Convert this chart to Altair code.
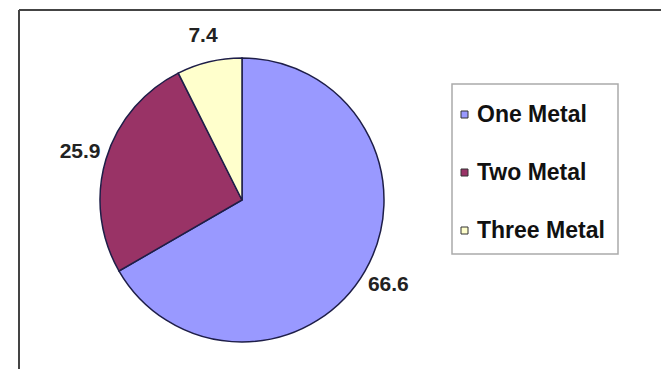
import altair as alt
import pandas as pd

# Share of samples by number of metals detected (percent)
categories = ["One Metal", "Two Metal", "Three Metal"]
shares = [66.6, 25.9, 7.4]
slice_colors = ["#9999FF", "#993366", "#FFFFCC"]

df = pd.DataFrame({
    "category": categories,
    "share": shares,
    "idx": list(range(len(categories))),
})

W, H = 642, 359          # plot area (view) size
CX, CY = 223, 190        # pie centre inside the view
R = 142                  # pie radius
LABEL_R = 169            # radius of the value labels

base = alt.Chart(df).encode(
    theta=alt.Theta("share:Q", stack=True),
    order=alt.Order("idx:O"),
)

pie = base.mark_arc(outerRadius=R, stroke="#1e1e48", strokeWidth=1.5).encode(
    x=alt.value(CX),
    y=alt.value(CY),
    color=alt.Color(
        "category:N",
        scale=alt.Scale(domain=categories, range=slice_colors),
        legend=alt.Legend(
            title=None,
            orient="none",
            legendX=434,
            legendY=93,
            padding=0,
            symbolType="square",
            symbolSize=49,
            symbolStrokeColor="#333333",
            symbolStrokeWidth=1,
            labelFont="Liberation Sans",
            labelFontSize=23,
            labelFontWeight="bold",
            labelColor="#111111",
            labelOffset=1,
            rowPadding=34,
        ),
    ),
)

labels = base.mark_text(
    radius=LABEL_R,
    font="Liberation Sans",
    fontSize=21,
    fontWeight="bold",
    color="#222222",
).encode(
    x=alt.value(CX),
    y=alt.value(CY),
    text=alt.Text("share:Q", format=".1f"),
)

one = alt.Chart(pd.DataFrame({"k": [0]}))

# outer chart frame (top and left edges)
frame_top = one.mark_rule(color="#444444", strokeWidth=2).encode(
    x=alt.value(0), x2=alt.value(W), y=alt.value(0)
)
frame_left = one.mark_rule(color="#444444", strokeWidth=2).encode(
    x=alt.value(0), y=alt.value(0), y2=alt.value(H)
)

# box around the legend
legend_box = one.mark_rect(fillOpacity=0, stroke="#aaaaaa", strokeWidth=1.5).encode(
    x=alt.value(433), x2=alt.value(599), y=alt.value(74), y2=alt.value(244)
)

chart = alt.layer(frame_top, frame_left, legend_box, pie, labels).properties(
    width=W,
    height=H,
    padding={"left": 19, "top": 10, "right": 0, "bottom": 0},
    autosize=alt.AutoSizeParams(type="none"),
    background="white",
).configure_view(stroke="transparent")

chart.save("out.html", embed_options={"renderer": "svg", "actions": False})
